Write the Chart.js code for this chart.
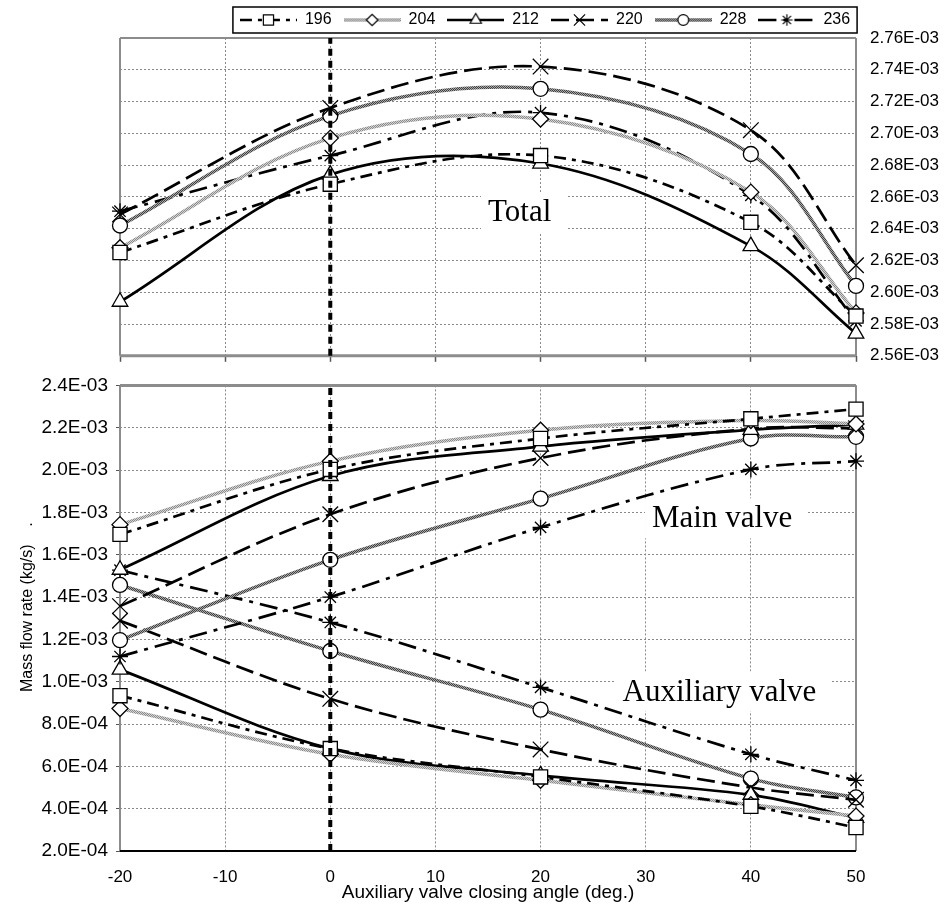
<!DOCTYPE html>
<html>
<head>
<meta charset="utf-8">
<script src="https://cdn.jsdelivr.net/npm/chart.js@4.4.1/dist/chart.umd.min.js"></script>
<style>
  html, body { margin: 0; padding: 0; background: #fff; overflow: hidden; width: 945px; height: 905px; }
  #totalChart { position: absolute; left: 0; top: 0; }
  #valveChart { position: absolute; left: 0; top: 366px; }
</style>
</head>
<body>
<canvas id="totalChart" width="970" height="380"></canvas>
<canvas id="valveChart" width="945" height="539"></canvas>
<script>
// angulo de fechamento da valvula auxiliar (graus)
const angles = [-20, 0, 20, 40, 50];
const series = ["196", "204", "212", "220", "228", "236"];

// vazao total (kg/s)
const total196 = [2.625e-3, 2.668e-3, 2.686e-3, 2.644e-3, 2.585e-3];
const total204 = [2.628e-3, 2.697e-3, 2.709e-3, 2.663e-3, 2.587e-3];
const total212 = [2.594e-3, 2.674e-3, 2.681e-3, 2.629e-3, 2.574e-3];
const total220 = [2.649e-3, 2.716e-3, 2.742e-3, 2.702e-3, 2.617e-3];
const total228 = [2.642e-3, 2.711e-3, 2.728e-3, 2.687e-3, 2.604e-3];
const total236 = [2.651e-3, 2.686e-3, 2.713e-3, 2.661e-3, 2.582e-3];

// valvula principal (kg/s)
const main196 = [1.696e-3, 2.003e-3, 2.149e-3, 2.242e-3, 2.288e-3];
const main204 = [1.742e-3, 2.042e-3, 2.188e-3, 2.234e-3, 2.218e-3];
const main212 = [1.529e-3, 1.972e-3, 2.111e-3, 2.190e-3, 2.215e-3];
const main220 = [1.357e-3, 1.791e-3, 2.057e-3, 2.195e-3, 2.197e-3];
const main228 = [1.196e-3, 1.576e-3, 1.865e-3, 2.149e-3, 2.157e-3];
const main236 = [1.119e-3, 1.400e-3, 1.729e-3, 2.003e-3, 2.042e-3];

// valvula auxiliar (kg/s)
const aux196 = [0.934e-3, 0.684e-3, 0.550e-3, 0.411e-3, 0.311e-3];
const aux204 = [0.873e-3, 0.657e-3, 0.534e-3, 0.419e-3, 0.365e-3];
const aux212 = [1.057e-3, 0.684e-3, 0.557e-3, 0.465e-3, 0.357e-3];
const aux220 = [1.288e-3, 0.919e-3, 0.680e-3, 0.500e-3, 0.442e-3];
const aux228 = [1.457e-3, 1.145e-3, 0.868e-3, 0.542e-3, 0.453e-3];
const aux236 = [1.527e-3, 1.280e-3, 0.973e-3, 0.657e-3, 0.534e-3];

const totalRange = [2.56e-3, 2.76e-3];
const valveRange = [2.0e-4, 2.4e-3];

// textura das linhas cinza (linha dupla do original)
function hatch(dark, light) {
  const c = document.createElement("canvas");
  c.width = 2; c.height = 2;
  const g = c.getContext("2d");
  g.fillStyle = light; g.fillRect(0, 0, 2, 2);
  g.fillStyle = dark; g.fillRect(0, 0, 1, 1); g.fillRect(1, 1, 1, 1);
  return g.createPattern(c, "repeat");
}

// estilos de cada serie
const looks = {
  "196": { color: "#000", width: 2.7, dash: [12, 6, 4, 6], marker: "rect", r: 10 },
  "204": { color: hatch("#8a8a8a", "#d4d4d4"), width: 3.5, dash: [], marker: "rectRot", r: 8 },
  "212": { color: "#000", width: 2.7, dash: [], marker: "triangle", r: 9 },
  "220": { color: "#000", width: 2.7, dash: [18, 7], marker: "crossRot", r: 11 },
  "228": { color: hatch("#404040", "#a8a8a8"), width: 3.5, dash: [], marker: "circle", r: 7.5 },
  "236": { color: "#000", width: 2.7, dash: [18, 7, 4, 7], marker: "star", r: 8 }
};

Chart.defaults.font.family = "'Liberation Sans', Arial, sans-serif";
Chart.defaults.color = "#000";

const gridGray = "#8a8a8a";
const frameGray = "#8c8c8c";

const sci = (v, d) => {
  const [m, e] = Number(v).toExponential(d).split("e");
  const n = parseInt(e, 10);
  return m + "E" + (n < 0 ? "-" : "+") + String(Math.abs(n)).padStart(2, "0");
};

function lineSet(label, values) {
  const look = looks[label];
  return {
    label,
    data: angles.map((a, i) => ({ x: a, y: values[i] })),
    borderColor: look.color,
    borderWidth: look.width,
    borderDash: look.dash,
    tension: 0.35,
    fill: false,
    clip: false,
    pointStyle: look.marker,
    pointRadius: look.r,
    pointHoverRadius: look.r,
    pointBorderWidth: 1.3,
    pointBorderColor: "#000",
    pointBackgroundColor: "#fff"
  };
}

function zeroLine(range) {
  return {
    label: "_zero",
    data: [{ x: 0, y: range[0] }, { x: 0, y: range[1] }],
    borderColor: "#000",
    borderWidth: 4,
    borderDash: [7, 5],
    pointRadius: 0,
    tension: 0,
    clip: false
  };
}

function legendIcon(look) {
  const c = document.createElement("canvas");
  c.width = 57; c.height = 16;
  const g = c.getContext("2d");
  g.strokeStyle = look.color; g.lineWidth = look.width; g.setLineDash(look.dash);
  g.beginPath(); g.moveTo(0, 8); g.lineTo(57, 8); g.stroke();
  g.setLineDash([]);
  g.fillStyle = "#fff"; g.strokeStyle = "#000"; g.lineWidth = 1.2;
  Chart.helpers.drawPoint(g, { pointStyle: look.marker, radius: look.r * 0.72, borderWidth: 1.2, rotation: 0 }, 28.5, 8);
  return c;
}

// moldura da area do grafico + rotulos com fundo branco
const framePlugin = {
  id: "frame",
  beforeDatasetsDraw(chart, args, opts) {
    const { ctx, chartArea: a, scales } = chart;
    ctx.save();
    const side = (x1, y1, x2, y2, s) => {
      ctx.strokeStyle = s.color; ctx.lineWidth = s.width;
      ctx.beginPath(); ctx.moveTo(x1, y1); ctx.lineTo(x2, y2); ctx.stroke();
    };
    side(a.left, a.top, a.right, a.top, opts.top);
    side(a.left, a.top, a.left, a.bottom, opts.side);
    side(a.right, a.top, a.right, a.bottom, opts.side);
    side(a.left, a.bottom, a.right, a.bottom, opts.bottom);

    ctx.font = "31px 'Liberation Serif', 'Times New Roman', serif";
    ctx.textBaseline = "middle";
    ctx.textAlign = "left";
    (opts.notes || []).forEach(n => {
      const x = scales.x.getPixelForValue(n.x);
      const y = scales.y.getPixelForValue(n.y);
      const w = ctx.measureText(n.text).width;
      ctx.fillStyle = "#fff";
      ctx.fillRect(x - 7, y - 20, w + 22, 40);
      ctx.fillStyle = "#000";
      ctx.fillText(n.text, x, y + 1);
    });
    ctx.restore();
  }
};

const legendBox = {
  id: "legendBox",
  afterDraw(chart) {
    const hb = chart.legend && chart.legend.legendHitBoxes;
    if (!hb || !hb.length) return;
    const last = hb[hb.length - 1];
    const ctx = chart.ctx;
    ctx.save();
    ctx.strokeStyle = "#000";
    ctx.lineWidth = 1.5;
    ctx.strokeRect(hb[0].left - 7, hb[0].top - 5, last.left + last.width + 7 - (hb[0].left - 7), hb[0].height + 10);
    ctx.restore();
  }
};

// ---------- 1) vazao total ----------
new Chart(document.getElementById("totalChart"), {
  type: "line",
  data: {
    datasets: [
      zeroLine(totalRange),
      lineSet("196", total196), lineSet("204", total204), lineSet("212", total212),
      lineSet("220", total220), lineSet("228", total228), lineSet("236", total236)
    ]
  },
  options: {
    responsive: false,
    animation: false,
    layout: { padding: { left: 120, right: 0, top: 0, bottom: 0 } },
    plugins: {
      tooltip: { enabled: false },
      legend: {
        position: "top",
        align: "center",
        labels: {
          usePointStyle: true,
          pointStyleWidth: 57,
          padding: 12,
          font: { size: 16 },
          color: "#000",
          generateLabels: () => series.map((name, i) => ({
            text: name, pointStyle: legendIcon(looks[name]), datasetIndex: i + 1,
            hidden: false, lineWidth: 0, fillStyle: "#fff", strokeStyle: "#000", fontColor: "#000"
          }))
        }
      },
      frame: {
        top: { color: frameGray, width: 2 },
        side: { color: frameGray, width: 2 },
        bottom: { color: frameGray, width: 3 },
        notes: [{ text: "Total", x: 15, y: 2.6505e-3 }]
      }
    },
    scales: {
      x: {
        type: "linear", min: -20, max: 50,
        ticks: { display: false, stepSize: 10 },
        grid: { color: gridGray, lineWidth: 1, drawTicks: true, tickLength: 6, tickColor: "#555", tickWidth: 1.5 },
        border: { display: false, dash: [2, 2] },
        afterFit: s => { s.height = 6; }
      },
      y: {
        type: "linear", position: "right",
        min: totalRange[0], max: totalRange[1],
        ticks: { stepSize: 2e-5, padding: 14, font: { size: 17 }, color: "#000", callback: v => sci(v, 2) },
        grid: { color: gridGray, lineWidth: 1, drawTicks: false },
        border: { display: false, dash: [2, 2] },
        afterFit: s => { s.width = 114; }
      }
    }
  },
  plugins: [framePlugin, legendBox]
});

// ---------- 2) valvula principal e auxiliar ----------
new Chart(document.getElementById("valveChart"), {
  type: "line",
  data: {
    datasets: [
      zeroLine(valveRange),
      lineSet("196", main196), lineSet("204", main204), lineSet("212", main212),
      lineSet("220", main220), lineSet("228", main228), lineSet("236", main236),
      lineSet("196", aux196), lineSet("204", aux204), lineSet("212", aux212),
      lineSet("220", aux220), lineSet("228", aux228), lineSet("236", aux236)
    ]
  },
  options: {
    responsive: false,
    animation: false,
    layout: { padding: { left: 0, right: 89, top: 8, bottom: 0 } },
    plugins: {
      tooltip: { enabled: false },
      legend: { display: false },
      frame: {
        top: { color: frameGray, width: 3 },
        side: { color: frameGray, width: 2 },
        bottom: { color: "#000", width: 2 },
        notes: [
          { text: "Main valve", x: 30.6, y: 1.772e-3 },
          { text: "Auxiliary valve", x: 27.8, y: 0.954e-3 }
        ]
      }
    },
    scales: {
      x: {
        type: "linear", min: -20, max: 50,
        ticks: { stepSize: 10, padding: 16, font: { size: 17 }, color: "#000" },
        grid: { color: gridGray, lineWidth: 1, drawTicks: false },
        border: { display: false, dash: [2, 2] },
        title: { display: true, text: "Auxiliary valve closing angle (deg.)", font: { size: 19 }, color: "#000", padding: { top: 0, bottom: 1 } },
        afterFit: s => { s.height = 54; }
      },
      y: {
        type: "linear", position: "left",
        min: valveRange[0], max: valveRange[1],
        ticks: { stepSize: 2e-4, padding: 8, font: { size: 19 }, color: "#000", callback: v => sci(v, 1) },
        grid: { color: gridGray, lineWidth: 1, drawTicks: true, tickLength: 4, tickColor: "#555" },
        border: { display: false, dash: [2, 2] },
        title: { display: true, text: "     Mass flow rate (kg/s)    .", font: { size: 16 }, color: "#000", padding: { top: 18, bottom: 0 } },
        afterFit: s => { s.width = 120; }
      }
    }
  },
  plugins: [framePlugin]
});
</script>
</body>
</html>
